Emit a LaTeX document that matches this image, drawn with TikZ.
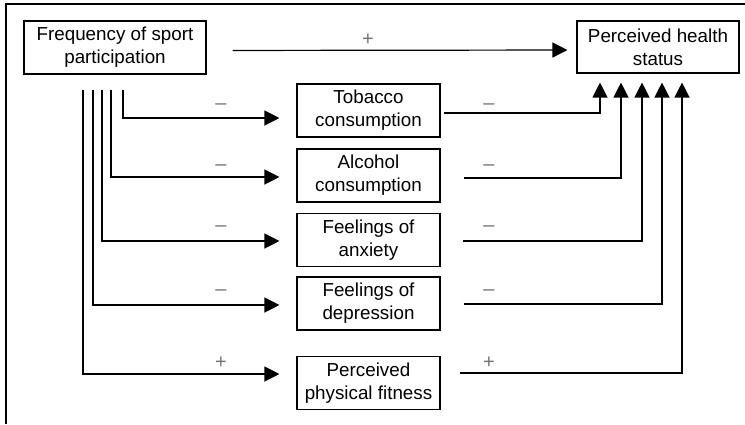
\documentclass[tikz,border=0pt]{standalone}
\usepackage{fontspec}
\setmainfont{Liberation Sans}
\usepackage{tikz}
\usetikzlibrary{arrows.meta, positioning, calc}

\begin{document}
\begin{tikzpicture}[x=1pt, y=-1pt,
    box/.style={draw, line width=1.1pt, inner sep=0pt, align=center,
                font=\fontsize{18.8}{23}\selectfont},
    midbox/.style={box, minimum width=143pt, minimum height=53pt},
    arrow/.style={line width=1.2pt, -{Triangle[length=15pt, width=15pt]}},
    sign/.style={text=black!55, inner sep=0pt, font=\fontsize{20}{20}\selectfont}]
                \useasboundingbox (0,0) rectangle (745,424);
                \draw[line width=1.3pt] (745,4) -- (6,4) -- (6,424);

                % outer boxes
                \node[box, minimum width=182pt, minimum height=53pt] (freq) at (115, 47.5) {Frequency of sport\\participation};
                \node[box, minimum width=162pt, minimum height=52pt] (health) at (658, 47) {Perceived health\\status};

                % mediators
                \node[midbox] (tob) at (368.5, 110.5) {Tobacco\\consumption};
                \node[midbox] (alc) at (368.5, 175.5) {Alcohol\\consumption};
                \node[midbox] (anx) at (368.5, 240) {Feelings of\\anxiety};
                \node[midbox] (dep) at (368.5, 303.5) {Feelings of\\depression};
                \node[midbox] (fit) at (368.5, 383) {Perceived\\physical fitness};

                % direct path
                \draw[arrow, shorten <=26pt, shorten >=9pt] ([yshift=-3pt]freq.east) -- ([yshift=-3pt]health.west);
                \node[sign] (ldirect) at (368, 40) {+};

                % sport -> mediators
                \draw[arrow, shorten >=17pt] ([xshift=8pt, yshift=-15pt]freq.south) |- ([yshift=-7.5pt]tob.west);
                \draw[arrow, shorten >=17pt] ([xshift=-4pt, yshift=-15pt]freq.south) |- ([yshift=-1.5pt]alc.west);
                \draw[arrow, shorten >=17pt] ([xshift=-13pt, yshift=-15pt]freq.south) |- ([yshift=-1pt]anx.west);
                \draw[arrow, shorten >=17pt] ([xshift=-22pt, yshift=-15pt]freq.south) |- ([yshift=-1.5pt]dep.west);
                \draw[arrow, shorten >=17pt] ([xshift=-32pt, yshift=-15pt]freq.south) |- ([yshift=9pt]fit.west);
                \node[sign] (ltob) at (221, 107) {--};
                \node[sign] (lalc) at (221, 168) {--};
                \node[sign] (lanx) at (221, 229) {--};
                \node[sign] (ldep) at (221, 293) {--};
                \node[sign] (lfit) at (221, 363) {+};

                % mediators -> health
                \draw[arrow, shorten <=3pt, shorten >=9pt] ([yshift=-2.5pt]tob.east) -| ([xshift=-58pt]health.south);
                \draw[arrow, shorten <=23pt, shorten >=9pt] ([yshift=-2.5pt]alc.east) -| ([xshift=-37pt]health.south);
                \draw[arrow, shorten <=22pt, shorten >=9pt] ([yshift=-1pt]anx.east) -| ([xshift=-16pt]health.south);
                \draw[arrow, shorten <=23pt, shorten >=9pt] ([yshift=-0.5pt]dep.east) -| ([xshift=4pt]health.south);
                \draw[arrow, shorten <=19pt, shorten >=9pt] ([yshift=10pt]fit.east) -| ([xshift=24pt]health.south);
                \node[sign] (rtob) at (489, 107) {--};
                \node[sign] (ralc) at (489, 168) {--};
                \node[sign] (ranx) at (489, 229) {--};
                \node[sign] (rdep) at (489, 293) {--};
                \node[sign] (rfit) at (489, 363) {+};
\end{tikzpicture}
\end{document}
